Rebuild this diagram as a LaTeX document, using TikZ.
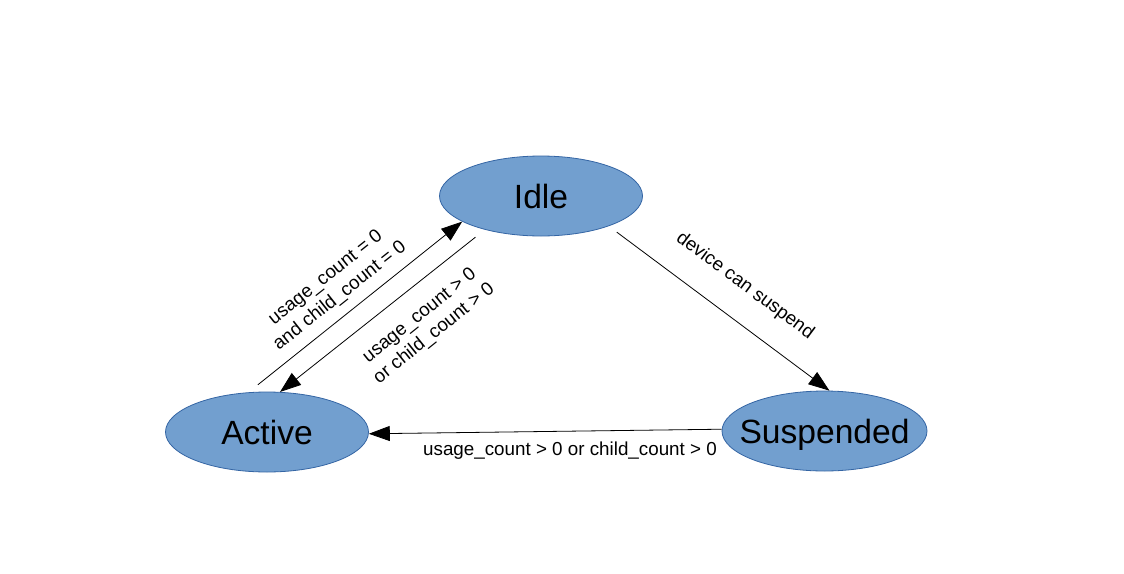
\documentclass[tikz,border=0pt]{standalone}
\usepackage{fontspec}
\setmainfont{Liberation Sans}
\usetikzlibrary{arrows.meta,shapes.geometric}
\definecolor{stfill}{RGB}{114,159,207}
\definecolor{stdraw}{RGB}{52,101,164}
\begin{document}
\begin{tikzpicture}[x=1pt,y=-1pt,
  state/.style={ellipse, draw=stdraw, fill=stfill, line width=0.8pt,
    minimum width=203pt, minimum height=80pt, inner sep=0pt,
    text height=24pt, text depth=0pt, font=\fontsize{33.6}{38}\selectfont},
  trans/.style={line width=0.8pt, -{Triangle[length=21pt,width=15pt]}},
  lbl/.style={font=\fontsize{18.8}{23}\selectfont, align=center, inner sep=0pt}]
\useasboundingbox[fill=white] (0,0) rectangle (1124,573);
\node[state] (idle) at (541,196) {\makebox[0pt]{Idle}};
\node[state] (active) at (267,432) {\makebox[0pt]{Active}};
\node[state, minimum width=205pt] (susp) at (824.5,431) {\makebox[0pt]{Suspended}};
\draw[trans, shorten <=12pt] (active.115) -- (idle.198);
\draw[trans, shorten <=12pt] (idle.211.5) -- (active.72);
\draw[trans, shorten <=10pt] (idle.336) -- (susp.83);
\draw[trans] (susp.179) -- (active.359);
\node[lbl, rotate=38.4] (l1) at (333,287) {usage\_count = 0\\and child\_count = 0};
\node[lbl, rotate=38.8] (l2) at (427,325) {usage\_count > 0\\or child\_count > 0};
\node[lbl, rotate=-36.6] (l3) at (745,286) {device can suspend};
\node[lbl] (l4) at (570,451) {usage\_count > 0 or child\_count > 0};
\end{tikzpicture}
\end{document}
